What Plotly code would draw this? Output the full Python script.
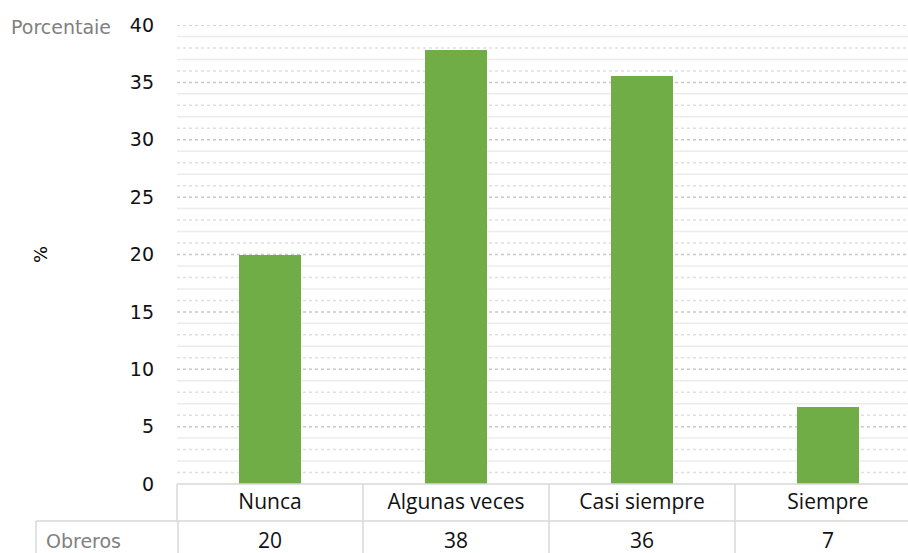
import plotly.graph_objects as go

categories = ["Nunca", "Algunas veces", "Casi siempre", "Siempre"]
porcentaje = [20.0, 37.78, 35.56, 6.67]
obreros = ["20", "38", "36", "7"]
y_ticks = [0, 5, 10, 15, 20, 25, 30, 35, 40]

W, H = 908, 553
L, R, T, B = 177, 0, 25, 69
ph = H - T - B
pw = W - L - R

def py(pix):
    return (H - B - pix) / ph

def px(pix):
    return (pix - L) / pw

fig = go.Figure()
fig.add_trace(go.Bar(
    x=list(range(len(categories))), y=porcentaje,
    marker=dict(color="#70AD47", line=dict(width=0)),
    width=0.33, hoverinfo="skip"))

grey = "#d9d9d9"
shapes = []
# gridlines: major dotted every 5, minor alternating solid / dotted
for v in range(1, 41):
    k = (40 - v) % 5
    if k == 0:
        ln = dict(color="#c8c8c8", width=1.5, dash="dot")
    elif k in (1, 3):
        ln = dict(color="#ececec", width=1.5)
    else:
        ln = dict(color="#e0e0e0", width=1.5, dash="dot")
    shapes.append(dict(type="line", xref="paper", yref="y", x0=0, x1=1, y0=v, y1=v,
                       line=ln, layer="below"))
# table lines
row1_bot = py(521)
bottom = py(560)
shapes.append(dict(type="line", xref="paper", yref="paper", x0=0, x1=1.02, y0=0, y1=0,
                   line=dict(color=grey, width=1.5)))
shapes.append(dict(type="line", xref="paper", yref="paper", x0=px(36), x1=1.02, y0=row1_bot, y1=row1_bot,
                   line=dict(color=grey, width=1.5)))
shapes.append(dict(type="line", xref="paper", yref="paper", x0=0, x1=0, y0=0, y1=row1_bot,
                   line=dict(color=grey, width=1.5)))
shapes.append(dict(type="line", xref="paper", yref="paper", x0=px(178), x1=px(178), y0=row1_bot, y1=bottom,
                   line=dict(color=grey, width=1.5)))
shapes.append(dict(type="line", xref="paper", yref="paper", x0=px(36), x1=px(36), y0=row1_bot, y1=bottom,
                   line=dict(color=grey, width=1.5)))
for b in [0.5, 1.5, 2.5]:
    shapes.append(dict(type="line", xref="x", yref="paper", x0=b, x1=b, y0=0, y1=bottom,
                       line=dict(color=grey, width=1.5)))

annotations = []
for i, v in enumerate(obreros):
    annotations.append(dict(x=i, y=py(540), xref="x", yref="paper", text=v, showarrow=False,
                            font=dict(family="Open Sans, sans-serif", size=21, color="#111111"),
                            xanchor="center", yanchor="middle"))
annotations.append(dict(x=px(44), y=py(541), xref="paper", yref="paper", text="Obreros", showarrow=False,
                        font=dict(family="DejaVu Sans", size=19, color="#808080"),
                        xanchor="left", yanchor="middle"))
annotations.append(dict(x=px(9), y=py(27), xref="paper", yref="paper", text="Porcentaie", showarrow=False,
                        font=dict(family="DejaVu Sans", size=19, color="#808080"),
                        xanchor="left", yanchor="middle"))
annotations.append(dict(x=px(40), y=py(255), xref="paper", yref="paper", text="%", showarrow=False,
                        textangle=-90,
                        font=dict(family="DejaVu Sans", size=18, color="#000000"),
                        xanchor="center", yanchor="middle"))

fig.update_layout(
    width=W, height=H,
    margin=dict(l=L, r=R, t=T, b=B, pad=0),
    plot_bgcolor="white", paper_bgcolor="white",
    showlegend=False,
    bargap=0,
    shapes=shapes,
    annotations=annotations,
    xaxis=dict(
        range=[-0.5, 3.5 - 13 / 186],
        tickmode="array", tickvals=list(range(len(categories))), ticktext=categories,
        tickfont=dict(family="Open Sans, sans-serif", size=21, color="#111111"),
        showgrid=False, zeroline=False, showline=False, ticks="", ticklen=0,
        ticklabelstandoff=3,
        fixedrange=True,
    ),
    yaxis=dict(
        range=[0, 40],
        tickmode="array", tickvals=y_ticks, ticktext=[str(t) for t in y_ticks],
        tickfont=dict(family="DejaVu Sans", size=19, color="#111111"),
        showgrid=False,
        zeroline=False, showline=False, ticks="",
        ticklabelstandoff=22,
        fixedrange=True,
    ),
)

fig.write_html("out.html", config={"displayModeBar": False},
               post_script="document.body.style.margin='0';document.body.style.overflow='hidden';")
